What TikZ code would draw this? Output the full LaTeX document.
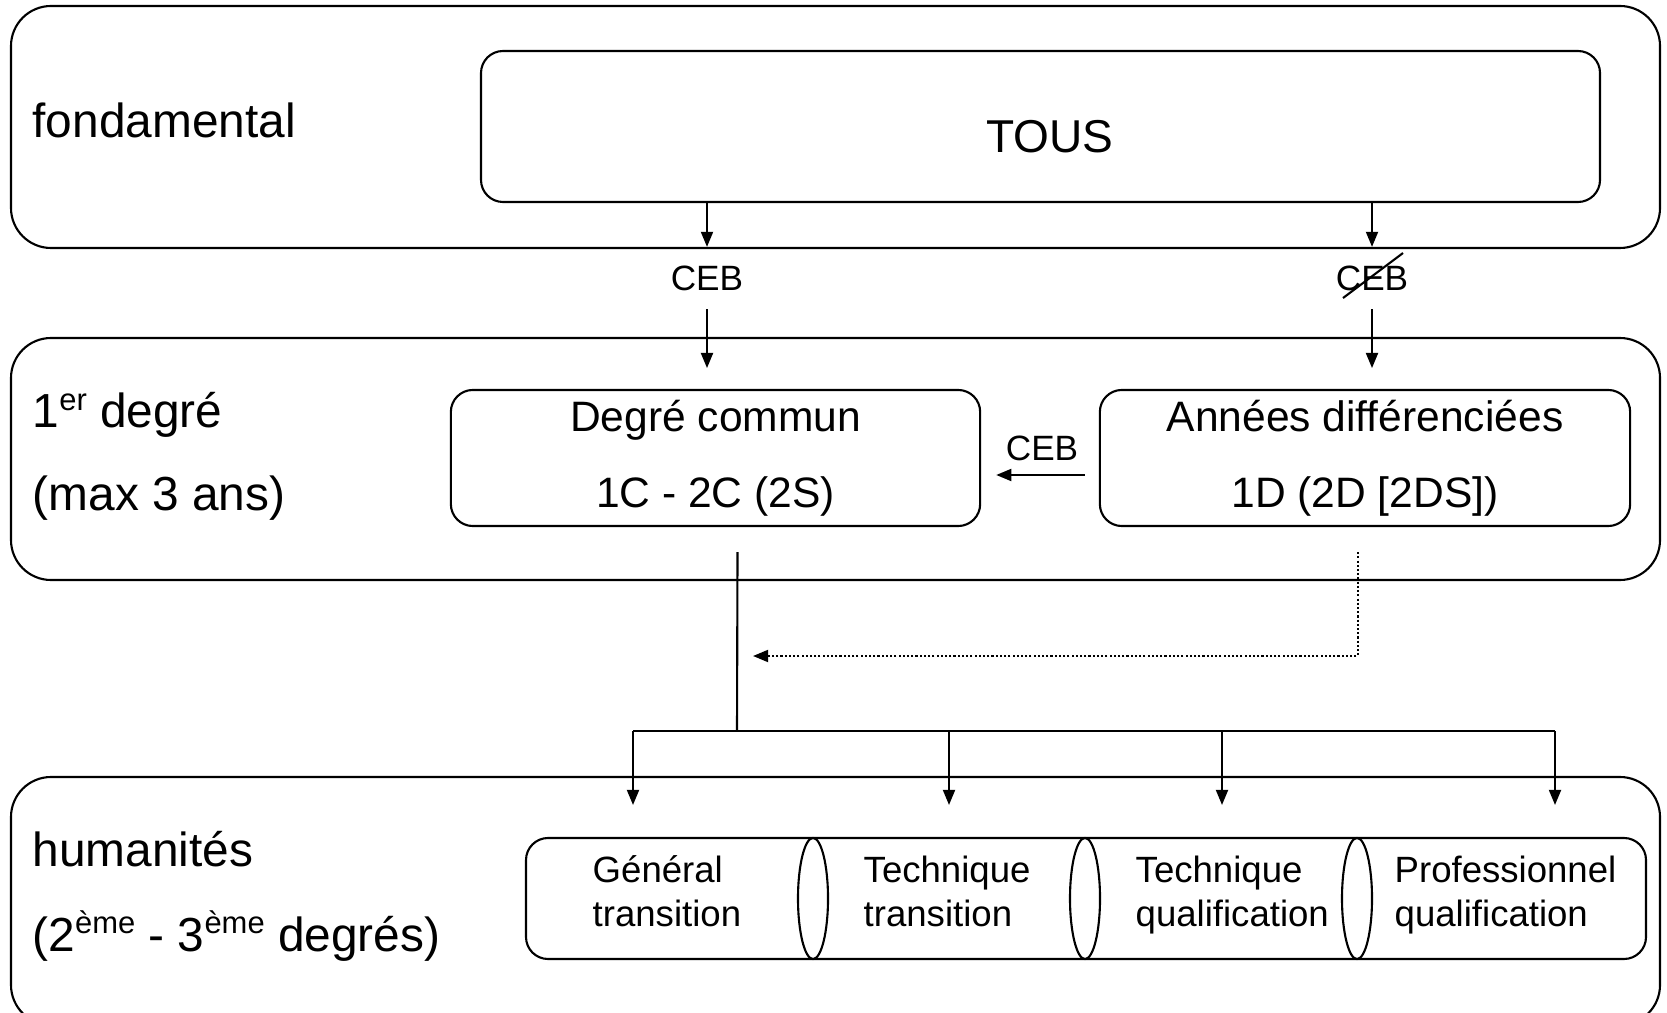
\documentclass[tikz,border=0pt]{standalone}
\usepackage{fontspec}
\setmainfont{Liberation Sans}
\usetikzlibrary{arrows.meta,fit,shapes.geometric}

\newcommand{\exposant}[1]{\raisebox{0.36em}{\fontsize{8.8}{10}\selectfont #1}}

\tikzset{
  outerbox/.style={draw, line width=0.6pt, rounded corners=0.4cm, inner sep=0pt},
  innerbox/.style={draw, line width=0.6pt, rounded corners=0.22cm, inner sep=0pt},
  joint/.style={draw, line width=0.6pt, ellipse, fill=white, minimum width=0.3cm, minimum height=1.21cm, inner sep=0pt},
  levellabel/.style={font=\fontsize{13.6}{16}\selectfont, anchor=base west, inner sep=0pt},
  boxtext/.style={font=\fontsize{12.1}{21.6}\selectfont, align=center},
  pathtext/.style={font=\fontsize{10.4}{12.5}\selectfont, align=left, anchor=west, inner sep=0pt},
  ceb/.style={font=\fontsize{10}{12}\selectfont, inner sep=5.1pt},
  arr/.style={-{Triangle[length=4.3pt,width=3.4pt]}, line width=0.6pt},
  link/.style={line width=0.6pt},
}

\begin{document}
\begin{tikzpicture}[x=0.01cm, y=-0.01cm]
 \useasboundingbox (0,0) rectangle (1667,1013);

 % fondamental
 \node[outerbox, fit={(11,6) (1660,248)}] (fond) {};
 \node[levellabel] (fondlbl) at (32,138) {fondamental};
 \node[innerbox, fit={(481,51) (1600,202)}] (tousbox) {};
 \node[font=\fontsize{13.1}{16}\selectfont, inner sep=0pt] (tous) at (1050,137) {TOUS};

 \node[ceb] (ceb1) at (707,278) {CEB};
 \node[ceb] (ceb2) at (1372,278) {CEB};
 \draw[link] ([shift={(-29,20)}]ceb2.center) -- ([shift={(31,-25)}]ceb2.center);

 % 1er degre
 \node[outerbox, fit={(11,338) (1660,580)}] (prem) {};
 \node[levellabel] (premlbl) at (32,428) {1\exposant{er} degré};
 \node[levellabel] (premmax) at (32,511) {(max 3 ans)};
 \node[innerbox, boxtext, minimum width=5.29cm, minimum height=1.36cm] (commun) at (715.5,458) {Degré commun\\1C - 2C (2S)};
 \node[innerbox, boxtext, minimum width=5.30cm, minimum height=1.36cm] (differ) at (1365,458) {Années différenciées\\1D (2D [2DS])};
 \node[ceb, inner sep=0pt] (ceb3) at (1042,448) {CEB};

 % humanites
 \node[outerbox, fit={(11,777) (1660,1025)}] (hum) {};
 \node[levellabel] (humlbl) at (32,866) {humanités};
 \node[levellabel] (humdeg) at (32,951) {(2\exposant{ème} - 3\exposant{ème} degrés)};
 \node[innerbox, fit={(526,838) (1646,959)}] (strip) {};
 \node[joint] (j1) at (813,898.5) {};
 \node[joint] (j2) at (1085,898.5) {};
 \node[joint] (j3) at (1357,898.5) {};
 \node[pathtext] (gt) at (592,896) {Général\strut\\transition\strut};
 \node[pathtext] (tt) at (863,896) {Technique\strut\\transition\strut};
 \node[pathtext] (tq) at (1135,896) {Technique\strut\\qualification\strut};
 \node[pathtext] (pq) at (1394,896) {Professionnel\strut\\qualification\strut};

 \coordinate (split) at (737,731);
 \coordinate (merge) at (753,656);
 \coordinate (t1) at (633,805);
 \coordinate (t2) at (949,805);
 \coordinate (t3) at (1222,805);
 \coordinate (t4) at (1555,805);

 % connectors
 \draw[arr] (tousbox.south -| ceb1.north) -- (ceb1.north);
 \draw[arr] (tousbox.south -| ceb2.north) -- (ceb2.north);
 \draw[arr] (ceb1.south) -- ++(0,59);
 \draw[arr] (ceb2.south) -- ++(0,59);
 \draw[arr] ([shift={(-14,17)}]differ.west) -- ([shift={(15,17)}]commun.east);
 \draw[link] ([shift={(22,25)}]commun.south) -- (split);
 \draw[link, dash pattern=on 0.6pt off 0.6pt, -{Triangle[length=4.3pt,width=3.4pt]}] ([shift={(-7,25)}]differ.south) |- (merge);
 \draw[link] (t1 |- split) -- (t4 |- split);
 \foreach \t in {t1,t2,t3,t4}
   \draw[arr] (\t |- split) -- (\t);
\end{tikzpicture}
\end{document}
